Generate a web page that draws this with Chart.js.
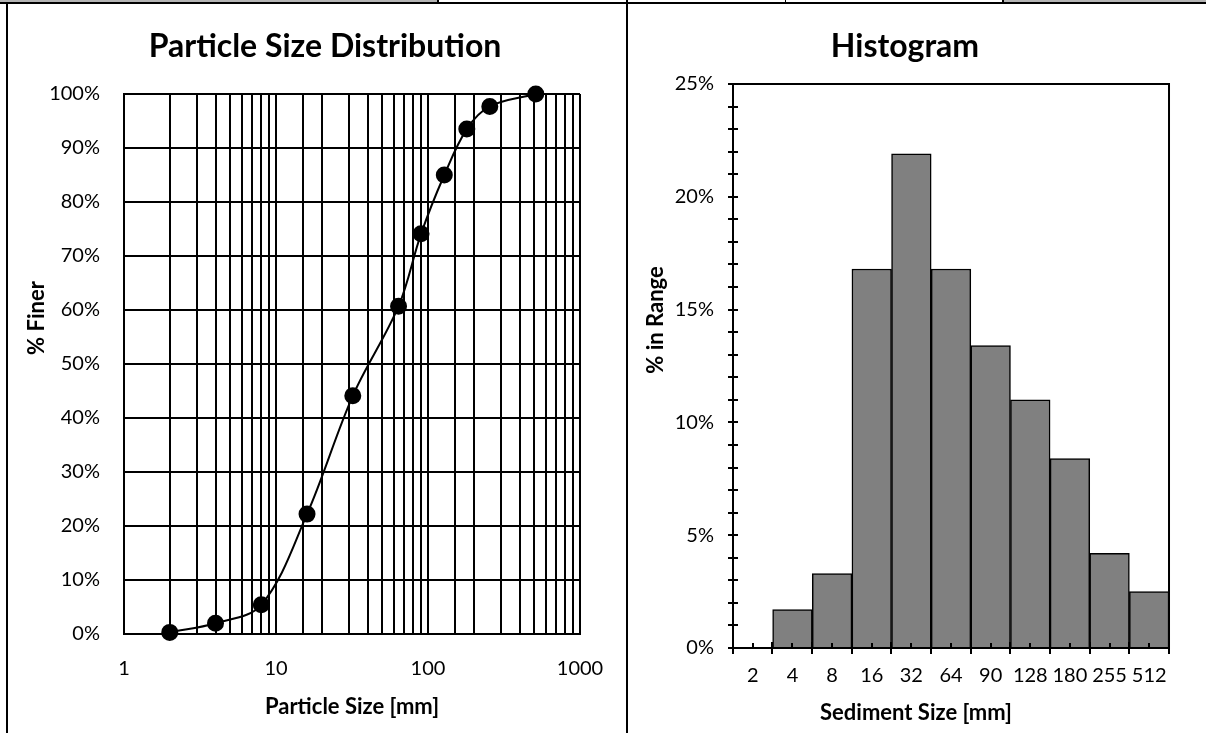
<!DOCTYPE html>
<html>
<head>
<meta charset="utf-8">
<script src="https://cdn.jsdelivr.net/npm/chart.js@4/dist/chart.umd.min.js"></script>
<style>
  html, body { margin: 0; padding: 0; background: #fff; }
  #page { position: relative; width: 1206px; height: 733px; overflow: hidden; }
  .box { position: absolute; }
  .rule { position: absolute; background: #000; }
  .shade { position: absolute; background: #b4b4b4; }
</style>
</head>
<body>
<div id="page">
  <!-- sheet cell borders -->
  <div class="shade" style="left:0;top:0;width:438px;height:2px"></div>
  <div class="shade" style="left:1003px;top:0;width:203px;height:2px"></div>
  <div class="rule" style="left:0;top:2px;width:1206px;height:2px"></div>
  <div class="rule" style="left:437px;top:0;width:2px;height:3px"></div>
  <div class="rule" style="left:785px;top:0;width:1px;height:3px"></div>
  <div class="rule" style="left:1002px;top:0;width:2px;height:3px"></div>
  <div class="rule" style="left:6px;top:2px;width:2px;height:731px"></div>
  <div class="rule" style="left:626px;top:0;width:2px;height:733px"></div>

  <div class="box" style="left:0;top:0"><canvas id="psdChart" width="650" height="733"></canvas></div>
  <div class="box" style="left:627px;top:0"><canvas id="histChart" width="556" height="733"></canvas></div>
</div>
<script>
// Sieve sizes (mm) and cumulative percent finer
const sizes = [2, 4, 8, 16, 32, 64, 90, 128, 180, 255, 512];
const percentFiner = [0.3, 2.0, 5.4, 22.2, 44.1, 60.7, 74.1, 85.0, 93.5, 97.7, 100];
// Percent of sample falling in each size class
const binLabels = ['2', '4', '8', '16', '32', '64', '90', '128', '180', '255', '512'];
const percentInRange = [0, 1.7, 3.3, 16.8, 21.9, 16.8, 13.4, 11.0, 8.4, 4.2, 2.5];

const FONT = 'Lato';
Chart.defaults.font.family = FONT;
Chart.defaults.color = '#000';

// chart and axis titles, placed at canvas coordinates
const captions = {
  id: 'captions',
  afterDraw(chart, args, opts) {
    const ctx = chart.ctx;
    (opts.items || []).forEach(it => {
      ctx.save();
      ctx.translate(it.x, it.y);
      if (it.rotate) ctx.rotate(-Math.PI / 2);
      ctx.font = 'bold ' + (it.size || 22) + 'px ' + FONT;
      ctx.fillStyle = '#000';
      ctx.textAlign = 'center';
      ctx.textBaseline = 'middle';
      ctx.fillText(it.text, 0, 0);
      ctx.restore();
    });
  }
};

// tick marks crossing the axes plus the frame around the histogram
const histFrame = {
  id: 'histFrame',
  afterDraw(chart) {
    const {ctx, chartArea: a, scales: {x, y}} = chart;
    ctx.save();
    ctx.strokeStyle = '#000';
    ctx.lineWidth = 2;
    ctx.beginPath();
    y.ticks.forEach(t => {
      const py = Math.round(y.getPixelForValue(t.value));
      ctx.moveTo(a.left - 5, py);
      ctx.lineTo(a.left + 5, py);
    });
    const half = (x.getPixelForValue(1) - x.getPixelForValue(0)) / 2;
    binLabels.forEach((_, i) => {
      const c = Math.round(x.getPixelForValue(i));
      ctx.moveTo(c, a.bottom);
      ctx.lineTo(c, a.bottom - 5);
      const b = Math.round(c - half);
      ctx.moveTo(b, a.bottom - 6);
      ctx.lineTo(b, a.bottom + 6);
    });
    const last = Math.round(x.getPixelForValue(binLabels.length - 1) + half);
    ctx.moveTo(last, a.bottom - 6);
    ctx.lineTo(last, a.bottom + 6);
    ctx.stroke();
    ctx.strokeRect(a.left, a.top, a.width, a.height);
    ctx.restore();
  }
};

new Chart(document.getElementById('psdChart'), {
  type: 'scatter',
  data: {
    datasets: [{
      data: sizes.map((s, i) => ({x: s, y: percentFiner[i]})),
      showLine: true,
      tension: 0.35,
      borderColor: '#000',
      borderWidth: 2,
      backgroundColor: '#000',
      pointRadius: 7.5,
      pointHoverRadius: 7.5,
      clip: false
    }]
  },
  options: {
    responsive: false,
    animation: false,
    layout: {padding: {left: 0, right: 70, top: 94, bottom: 0}},
    plugins: {
      legend: {display: false},
      tooltip: {enabled: false},
      captions: {items: [
        {text: 'Particle Size Distribution', x: 325, y: 47, size: 32},
        {text: '% Finer', x: 37, y: 318, rotate: true}
      ]}
    },
    scales: {
      x: {
        type: 'logarithmic',
        min: 1,
        max: 1000,
        afterFit: s => { s.height = 99; },
        border: {color: '#000', width: 2},
        grid: {color: '#000', lineWidth: 2, drawTicks: false},
        ticks: {
          autoSkip: false,
          maxRotation: 0,
          padding: 23,
          font: {size: 20},
          callback: v => [1, 10, 100, 1000].includes(v) ? String(v) : ''
        },
        title: {
          display: true,
          text: 'Particle Size [mm]',
          font: {size: 22, weight: 'bold'},
          padding: {top: 0, bottom: 13}
        }
      },
      y: {
        min: 0,
        max: 100,
        afterFit: s => { s.width = 124; },
        border: {color: '#000', width: 2},
        grid: {color: '#000', lineWidth: 2, drawTicks: false},
        ticks: {stepSize: 10, padding: 24, font: {size: 20}, callback: v => v + '%'}
      }
    }
  },
  plugins: [captions]
});

new Chart(document.getElementById('histChart'), {
  type: 'bar',
  data: {
    labels: binLabels,
    datasets: [{
      data: percentInRange,
      backgroundColor: '#808080',
      borderColor: '#000',
      borderWidth: 1.5,
      barPercentage: 1,
      categoryPercentage: 1
    }]
  },
  options: {
    responsive: false,
    animation: false,
    layout: {padding: {left: 0, right: 9, top: 84, bottom: 0}},
    plugins: {
      legend: {display: false},
      tooltip: {enabled: false},
      captions: {items: [
        {text: 'Histogram', x: 278, y: 47, size: 32},
        {text: '% in Range', x: 29, y: 320, rotate: true},
        {text: 'Sediment Size [mm]', x: 289, y: 713}
      ]}
    },
    scales: {
      x: {
        afterFit: s => { s.height = 85; },
        border: {color: '#000', width: 2},
        grid: {display: false, drawTicks: false},
        ticks: {padding: 16, font: {size: 20}, maxRotation: 0, autoSkip: false}
      },
      y: {
        min: 0,
        max: 25,
        afterFit: s => { s.width = 106; },
        border: {color: '#000', width: 2},
        grid: {display: false, drawTicks: false},
        ticks: {
          stepSize: 1,
          autoSkip: false,
          padding: 19,
          font: {size: 20},
          callback: v => v % 5 === 0 ? v + '%' : ''
        }
      }
    }
  },
  plugins: [captions, histFrame]
});
</script>
</body>
</html>
